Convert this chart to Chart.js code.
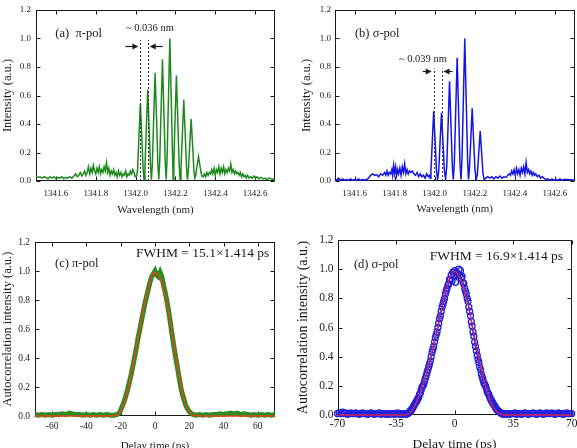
<!DOCTYPE html>
<html>
<head>
<meta charset="utf-8">
<script src="https://cdn.jsdelivr.net/npm/chart.js@4.4.1/dist/chart.umd.min.js"></script>
<style>
  body { margin: 0; background: #fff; width: 577px; height: 448px; overflow: hidden; position: relative; }
  canvas { position: absolute; }
</style>
</head>
<body>
<canvas id="ca" width="288" height="222" style="left:0;top:0"></canvas>
<canvas id="cb" width="289" height="222" style="left:288px;top:0"></canvas>
<canvas id="cc" width="288" height="240" style="left:0;top:222px"></canvas>
<canvas id="cd" width="289" height="240" style="left:288px;top:222px"></canvas>
<script>
// ---- (a) pi-pol spectrum ----
const wlA = [
  1341.500,1341.510,1341.520,1341.530,1341.540,1341.550,1341.560,1341.570,1341.580,1341.590,1341.600,1341.610,1341.620,1341.630,1341.640,1341.650,1341.660,1341.670,1341.680,1341.690,
  1341.700,1341.707,1341.715,1341.722,1341.730,1341.737,1341.744,1341.750,1341.757,1341.763,1341.770,1341.776,1341.782,1341.788,1341.794,1341.800,1341.806,
  1341.812,1341.818,1341.824,1341.830,1341.836,1341.842,1341.848,1341.854,1341.860,1341.866,1341.872,1341.878,1341.884,1341.890,1341.896,1341.902,
  1341.908,1341.914,1341.920,1341.926,1341.932,1341.938,1341.944,1341.950,1341.956,1341.962,1341.968,1341.974,1341.980,1341.986,1341.992,1341.998,
  1342.006, 1342.010,1342.016,1342.024,1342.032,1342.038,1342.0425, 1342.047,1342.053,1342.061,1342.069,1342.075,1342.0795,
  1342.084,1342.090,1342.098,1342.106,1342.112,1342.1165, 1342.121,1342.127,1342.135,1342.143,1342.149,1342.1535,
  1342.158,1342.164,1342.172,1342.180,1342.186,1342.1885, 1342.192,1342.197,1342.205,1342.213,1342.219,1342.2235,
  1342.228,1342.234,1342.242,1342.250,1342.256,1342.2605, 1342.265,1342.271,1342.279,1342.287,1342.293,1342.2975,
  1342.302,1342.308,1342.316,1342.324,1342.330,1342.335,
  1342.340,1342.346,1342.352,1342.358,1342.364,1342.370,1342.376,1342.382,1342.388,1342.394,1342.400,1342.406,1342.412,1342.418,1342.424,1342.430,
  1342.436,1342.442,1342.448,1342.454,1342.460,1342.466,1342.472,1342.478,1342.484,1342.490,1342.496,1342.502,1342.508,1342.514,1342.520,1342.526,
  1342.532,1342.538,1342.544,1342.550,1342.556,1342.562,1342.570,1342.578,1342.586,1342.594,1342.602,1342.610,1342.620,1342.630,1342.640,1342.650,1342.660,1342.670,1342.680,1342.700
];
const intA = [
  0.03,0.025,0.03,0.02,0.03,0.025,0.015,0.03,0.02,0.03,0.015,0.025,0.02,0.03,0.015,0.025,0.02,0.03,0.02,0.035,
  0.05,0.03,0.04,0.06,0.035,0.05,0.07,0.04,0.06,0.10,0.05,0.09,0.06,0.11,0.07,0.05,0.09,
  0.06,0.10,0.05,0.08,0.06,0.10,0.07,0.13,0.06,0.09,0.04,0.07,0.05,0.08,0.04,0.06,
  0.03,0.07,0.04,0.06,0.03,0.05,0.04,0.07,0.03,0.05,0.04,0.07,0.05,0.08,0.06,0.03,
  0.04, 0.08,0.28,0.545,0.28,0.08,0.01, 0.10,0.33,0.64,0.33,0.10,0.01,
  0.11,0.40,0.76,0.40,0.11,0.01, 0.13,0.44,0.855,0.44,0.13,0.01,
  0.15,0.52,1.00,0.52,0.15,0.01, 0.11,0.38,0.74,0.38,0.11,0.01,
  0.09,0.30,0.57,0.30,0.09,0.01, 0.07,0.23,0.435,0.23,0.07,0.02,
  0.04,0.10,0.17,0.10,0.05,0.03,
  0.03,0.05,0.03,0.06,0.04,0.06,0.05,0.08,0.05,0.09,0.04,0.08,0.06,0.10,0.05,0.09,
  0.06,0.10,0.05,0.08,0.06,0.09,0.07,0.12,0.06,0.08,0.05,0.07,0.05,0.06,0.04,0.06,
  0.03,0.05,0.03,0.04,0.02,0.04,0.02,0.03,0.02,0.035,0.02,0.03,0.015,0.025,0.015,0.02,0.01,0.02,0.015,0.01
];
const fringeA = [1342.024, 1342.061];

// ---- (b) sigma-pol spectrum ----
const wlB = [
  1341.500,1341.510,1341.520,1341.530,1341.540,1341.550,1341.560,1341.570,1341.580,1341.590,1341.600,1341.610,1341.620,1341.630,1341.640,1341.650,1341.660,1341.670,
  1341.680,1341.690,1341.700,1341.710,1341.720,1341.730,1341.740,1341.750,1341.756,1341.762,1341.768,1341.774,1341.780,1341.786,1341.790,
  1341.795,1341.800,1341.805,1341.810,1341.815,1341.820,1341.826,1341.832,1341.838,1341.844,1341.850,1341.856,1341.862,1341.868,1341.874,1341.880,
  1341.888,1341.896,1341.904,1341.912,1341.920,1341.928,1341.936,1341.944,1341.952,1341.960,1341.968,1341.974,1341.978,
  1341.981,1341.987,1341.995,1342.003,1342.009,1342.0145, 1342.020,1342.026,1342.034,1342.042,1342.048,1342.054,
  1342.060,1342.066,1342.074,1342.082,1342.088,1342.093, 1342.098,1342.104,1342.112,1342.120,1342.126,1342.131,
  1342.136,1342.142,1342.150,1342.158,1342.164,1342.1685, 1342.173,1342.179,1342.187,1342.195,1342.201,1342.207,
  1342.213,1342.219,1342.227,1342.235,1342.241,1342.247,
  1342.255,1342.265,1342.275,1342.285,1342.295,1342.305,1342.315,1342.325,1342.335,1342.345,1342.355,1342.365,1342.372,1342.378,1342.384,
  1342.390,1342.396,1342.402,1342.408,1342.414,1342.420,1342.426,1342.432,1342.438,1342.444,1342.450,1342.456,1342.462,1342.468,1342.474,1342.480,
  1342.486,1342.492,1342.498,1342.504,1342.512,1342.520,1342.528,1342.536,1342.545,1342.555,1342.565,1342.575,1342.585,1342.595,1342.605,1342.615,1342.625,1342.635,1342.645,1342.665,1342.700
];
const intB = [
  0.015,0.005,0.02,0.005,0.015,0.005,0.01,0.005,0.015,0.005,0.01,0.005,0.015,0.005,0.01,0.005,0.01,0.02,
  0.04,0.05,0.04,0.045,0.03,0.05,0.04,0.06,0.04,0.07,0.04,0.06,0.05,0.08,0.04,
  0.11,0.05,0.10,0.04,0.08,0.05,0.09,0.04,0.10,0.06,0.12,0.05,0.08,0.05,0.07,0.06,
  0.07,0.05,0.04,0.06,0.03,0.05,0.03,0.04,0.02,0.05,0.03,0.04,0.02,
  0.06,0.25,0.49,0.25,0.07,0.01, 0.07,0.25,0.478,0.25,0.08,0.01,
  0.10,0.36,0.70,0.36,0.10,0.01, 0.13,0.45,0.865,0.45,0.13,0.01,
  0.15,0.52,1.00,0.52,0.15,0.01, 0.08,0.26,0.51,0.26,0.08,0.01,
  0.05,0.18,0.35,0.18,0.05,0.01,
  0.02,0.03,0.02,0.03,0.015,0.03,0.02,0.035,0.02,0.03,0.025,0.04,0.05,0.04,0.07,
  0.05,0.08,0.04,0.09,0.05,0.08,0.04,0.09,0.06,0.10,0.05,0.13,0.06,0.08,0.05,0.07,
  0.04,0.06,0.04,0.05,0.03,0.04,0.02,0.03,0.02,0.01,0.015,0.005,0.015,0.005,0.01,0.005,0.015,0.005,0.01,0.01,0.005
];
const fringeB = [1341.995, 1342.034];

// ---- (c) pi-pol autocorrelation ----
const delayC = [
  -70,-68,-66,-64,-62,-60,-58,-56,-54,-52,-50,-48,-46,-44,-42,-40,-38,-36,-34,-32,-30,-28,-26,-24,-22,
  -21,-20,-19,-18,-17,-16,-15,-14,-13,-12,-11,-10,-9,-8,-7,-6,-5,-4,-3,-2,-1,0,
  1,2,3,4,5,6,7,8,9,10,11,12,13,14,15,16,17,18,19,20,21,22,
  24,26,28,30,32,34,36,38,40,42,44,46,48,50,52,54,56,58,60,62,64,66,68,70
];
const acC = [
  0.01,0.005,0.01,0.005,0.01,0.005,0.01,0.01,0.015,0.01,0.02,0.015,0.01,0.01,0.005,0.01,0.005,0.01,0.005,0.01,0.005,0.01,0.005,0.005,0.01,
  0.02,0.04,0.07,0.10,0.14,0.18,0.23,0.28,0.34,0.40,0.46,0.53,0.59,0.65,0.71,0.77,0.82,0.87,0.92,0.96,0.98,1.00,
  0.97,0.96,0.99,0.96,0.90,0.85,0.79,0.72,0.64,0.56,0.48,0.41,0.34,0.27,0.20,0.15,0.11,0.07,0.05,0.03,0.02,0.01,
  0.005,0.01,0.005,0.01,0.005,0.01,0.01,0.015,0.01,0.015,0.02,0.015,0.02,0.01,0.015,0.01,0.005,0.01,0.005,0.01,0.005,0.01,0.005,0.01
];
const fitDelayC = [-70,-40,-30,-26,-24,-22,-20,-18,-16,-14,-12,-10,-8,-6,-4,-2,0,2,4,6,8,10,12,14,16,18,20,22,24,26,30,40,70];
const fitC = [0,0,0,0,0.003,0.012,0.035,0.09,0.17,0.28,0.40,0.53,0.66,0.78,0.88,0.96,0.99,0.97,0.92,0.83,0.71,0.57,0.42,0.28,0.16,0.08,0.03,0.01,0.003,0,0,0,0];

// ---- (d) sigma-pol autocorrelation ----
const delayD = [
  -70,-69,-68,-67,-66,-65,-64,-63,-62,-61,
  -60,-59,-58,-57,-56,-55,-54,-53,-52,-51,
  -50,-49,-48,-47,-46,-45,-44,-43,-42,-41,
  -40,-39,-38,-37,-36,-35,-34,-33,-32,-31,
  -30,-29,-28,-27,-26,-25,-24,-23,-22,-21,
  -20,-19,-18,-17,-16,-15,-14,-13,-12,-11,
  -10,-9,-8,-7,-6,-5,-4,-3,-2,-1,
  0,1,2,3,4,5,6,7,8,9,
  10,11,12,13,14,15,16,17,18,19,
  20,21,22,23,24,25,26,27,28,29,
  30,31,32,33,34,35,36,37,38,39,
  40,41,42,43,44,45,46,47,48,49,
  50,51,52,53,54,55,56,57,58,59,
  60,61,62,63,64,65,66,67,68,69,
  70
];
const acD = [
  0.01,0.015,0.01,0.02,0.01,0.015,0.005,0.01,0.015,0.01,
  0.01,0.015,0.01,0.005,0.01,0.015,0.01,0.01,0.005,0.01,
  0.015,0.01,0.005,0.01,0.01,0.015,0.005,0.01,0.01,0.005,
  0.01,0.005,0.01,0.01,0.005,0.01,0.015,0.005,0.01,0.005,
  0.01,0.005,0.01,0.02,0.03,0.05,0.07,0.09,0.11,0.14,
  0.17,0.20,0.23,0.27,0.31,0.35,0.40,0.45,0.50,0.55,
  0.60,0.66,0.71,0.76,0.80,0.85,0.89,0.93,0.96,0.98,
  0.99,0.98,0.97,0.96,0.94,0.91,0.87,0.83,0.78,0.71,
  0.64,0.57,0.50,0.44,0.38,0.33,0.28,0.24,0.21,0.18,
  0.15,0.12,0.10,0.08,0.06,0.04,0.03,0.02,0.01,0.005,
  0.01,0.005,0.01,0.005,0.01,0.01,0.015,0.005,0.01,0.01,
  0.005,0.01,0.015,0.01,0.005,0.01,0.01,0.015,0.01,0.005,
  0.01,0.015,0.01,0.005,0.01,0.015,0.01,0.01,0.015,0.01,
  0.005,0.01,0.015,0.01,0.01,0.005,0.01,0.015,0.01,0.01,
  0.01
];
const delayD2 = [
  -28.5,-27.5,-26.5,-25.5,-24.5,-23.5,-22.5,-21.5,-20.5,-19.5,-18.5,-17.5,-16.5,-15.5,-14.5,
  -13.5,-12.5,-11.5,-10.5,-9.5,-8.5,-7.5,-6.5,-5.5,-4.5,-3.5,-2.5,-1.5,-0.5,
  0.5,1.5,2.5,3.5,4.5,5.5,6.5,7.5,8.5,9.5,10.5,11.5,12.5,13.5,14.5,
  15.5,16.5,17.5,18.5,19.5,20.5,21.5,22.5,23.5,24.5,25.5,26.5,27.5,28.5
];
const acD2 = [
  0.01,0.015,0.03,0.04,0.06,0.08,0.10,0.12,0.15,0.19,0.21,0.25,0.29,0.33,0.37,
  0.43,0.47,0.53,0.57,0.63,0.68,0.74,0.78,0.83,0.87,0.90,0.93,0.92,0.95,
  0.91,0.96,1.00,0.99,0.95,0.90,0.85,0.80,0.74,0.68,0.61,0.54,0.47,0.41,0.36,
  0.31,0.26,0.22,0.20,0.16,0.14,0.11,0.09,0.07,0.05,0.035,0.025,0.015,0.01
];
const fitDelayD = [-70,-40,-30,-28,-26,-24,-22,-20,-18,-16,-14,-12,-10,-8,-6,-4,-2,0,2,4,6,8,10,12,14,16,18,20,22,24,26,28,30,40,70];
const fitD = [0,0,0,0.005,0.025,0.06,0.11,0.17,0.24,0.32,0.41,0.51,0.61,0.72,0.82,0.90,0.96,0.985,0.97,0.92,0.85,0.76,0.65,0.53,0.42,0.31,0.22,0.14,0.08,0.04,0.015,0.005,0,0,0];

// ---- tick values ----
const ticksWl = [1341.6, 1341.8, 1342.0, 1342.2, 1342.4, 1342.6];
const ticksInt = [0, 0.2, 0.4, 0.6, 0.8, 1.0, 1.2];
const ticksDelayC = [-60, -40, -20, 0, 20, 40, 60];
const ticksDelayD = [-70, -35, 0, 35, 70];

const SERIF = "'Liberation Serif', 'Times New Roman', serif";
const INK = '#1a1a1a';

const pts = (xs, ys) => xs.map((x, i) => ({ x: x, y: ys[i] }));

function axis(o) {
  return {
    type: 'linear', min: o.min, max: o.max,
    afterBuildTicks: s => { s.ticks = o.ticks.map(v => ({ value: v })); },
    afterFit: s => {
      if (s.isHorizontal()) { s.height = o.size; s.paddingLeft = 0; s.paddingRight = 0; }
      else { s.width = o.size; s.paddingTop = 0; s.paddingBottom = 0; }
    },
    grid: { display: false, drawTicks: false },
    border: { display: false },
    ticks: {
      autoSkip: false, maxRotation: 0, padding: o.pad, color: INK,
      font: { family: SERIF, size: o.tickSize },
      callback: o.fmt
    },
    title: {
      display: true, text: o.title, color: INK,
      font: { family: SERIF, size: o.titleSize }, padding: o.titlePad
    }
  };
}

// box round the plot with inward ticks on all four sides
const frame = {
  id: 'frame',
  beforeDatasetsDraw(chart) {
    const { ctx, chartArea: a, scales: { x, y } } = chart;
    const L = Math.round(a.left) + 0.5, R = Math.round(a.right) - 0.5;
    const T = Math.round(a.top) + 0.5, B = Math.round(a.bottom) - 0.5;
    ctx.save();
    ctx.strokeStyle = INK;
    ctx.lineWidth = 1;
    ctx.strokeRect(L, T, R - L, B - T);
    ctx.beginPath();
    x.ticks.forEach(t => {
      const p = Math.round(x.getPixelForValue(t.value)) + 0.5;
      ctx.moveTo(p, B); ctx.lineTo(p, B - 4);
      ctx.moveTo(p, T); ctx.lineTo(p, T + 4);
    });
    y.ticks.forEach(t => {
      const p = Math.round(y.getPixelForValue(t.value)) + 0.5;
      ctx.moveTo(L, p); ctx.lineTo(L + 4, p);
      ctx.moveTo(R, p); ctx.lineTo(R - 4, p);
    });
    ctx.stroke();
    ctx.restore();
  }
};

function text(ctx, str, x, y, size, align) {
  ctx.font = size + 'px ' + SERIF;
  ctx.fillStyle = INK;
  ctx.textAlign = align || 'left';
  ctx.textBaseline = 'middle';
  ctx.fillText(str, x, y);
}
function arrow(ctx, x0, x1, y) {
  const d = Math.sign(x1 - x0);
  ctx.strokeStyle = INK; ctx.fillStyle = INK; ctx.lineWidth = 1.2; ctx.setLineDash([]);
  ctx.beginPath(); ctx.moveTo(x0, y); ctx.lineTo(x1 - d * 4, y); ctx.stroke();
  ctx.beginPath(); ctx.moveTo(x1, y); ctx.lineTo(x1 - d * 6, y - 3); ctx.lineTo(x1 - d * 6, y + 3); ctx.closePath(); ctx.fill();
}
function dashed(ctx, x, y0, y1) {
  ctx.strokeStyle = '#333'; ctx.lineWidth = 1; ctx.setLineDash([2, 2]);
  ctx.beginPath(); ctx.moveTo(Math.round(x) + 0.5, y0); ctx.lineTo(Math.round(x) + 0.5, y1); ctx.stroke();
  ctx.setLineDash([]);
}

function spacingNotes(id, panel, fringe, lineTop, arrowY, textX, textY, gap, str) {
  return {
    id: id,
    afterDatasetsDraw(chart) {
      const { ctx, scales: { x, y } } = chart;
      ctx.save();
      text(ctx, panel, x.getPixelForValue(textX[0]), y.getPixelForValue(1.035), 12.5);
      const l1 = x.getPixelForValue(fringe[0]), l2 = x.getPixelForValue(fringe[1]);
      dashed(ctx, l1, y.getPixelForValue(0), y.getPixelForValue(lineTop));
      dashed(ctx, l2, y.getPixelForValue(0), y.getPixelForValue(lineTop));
      const ay = Math.round(y.getPixelForValue(arrowY)) + 0.5;
      arrow(ctx, l1 - gap, l1 - 2, ay);
      arrow(ctx, l2 + gap, l2 + 2, ay);
      text(ctx, str, x.getPixelForValue(textX[1]), y.getPixelForValue(textY), 10.5, 'center');
      ctx.restore();
    }
  };
}

function pulseNotes(id, panel, panelAt, fwhm, fwhmAt) {
  return {
    id: id,
    afterDatasetsDraw(chart) {
      const { ctx, scales: { x, y } } = chart;
      ctx.save();
      text(ctx, panel, x.getPixelForValue(panelAt[0]), y.getPixelForValue(panelAt[1]), 12.5);
      text(ctx, fwhm, x.getPixelForValue(fwhmAt[0]), y.getPixelForValue(fwhmAt[1]), 13.5);
      ctx.restore();
    }
  };
}

const fmt1 = v => v.toFixed(1);
const fmt0 = v => String(v);
const base = {
  responsive: false, animation: false, events: [],
  plugins: { legend: { display: false }, tooltip: { enabled: false } }
};

// (a)
new Chart(document.getElementById('ca'), {
  type: 'scatter',
  data: { datasets: [{ data: pts(wlA, intA), showLine: true, borderColor: '#1e8a1e', borderWidth: 1.5, pointRadius: 0, tension: 0 }] },
  options: Object.assign({}, base, {
    layout: { padding: { left: 0, top: 10, right: 13, bottom: 0 } },
    scales: {
      x: axis({ min: 1341.5, max: 1342.7, ticks: ticksWl, size: 41, pad: 7, tickSize: 9, fmt: fmt1, title: 'Wavelength (nm)', titleSize: 11, titlePad: { top: 0, bottom: 5.5 } }),
      y: axis({ min: 0, max: 1.2, ticks: ticksInt, size: 36, pad: 5, tickSize: 9, fmt: fmt1, title: 'Intensity (a.u.)', titleSize: 12.5, titlePad: { top: 0.5, bottom: 0 } })
    }
  }),
  plugins: [frame, spacingNotes('notesA', '(a)  \u03c0-pol', fringeA, 0.99, 0.95, [1341.597, 1342.072], 1.07, 15, '~ 0.036 nm')]
});

// (b)
new Chart(document.getElementById('cb'), {
  type: 'scatter',
  data: { datasets: [{ data: pts(wlB, intB), showLine: true, borderColor: '#1414e6', borderWidth: 1.5, pointRadius: 0, tension: 0 }] },
  options: Object.assign({}, base, {
    layout: { padding: { left: 10, top: 10, right: 2, bottom: 0 } },
    scales: {
      x: axis({ min: 1341.5, max: 1342.7, ticks: ticksWl, size: 41, pad: 7, tickSize: 9, fmt: fmt1, title: 'Wavelength (nm)', titleSize: 11, titlePad: { top: 0, bottom: 6 } }),
      y: axis({ min: 0, max: 1.2, ticks: ticksInt, size: 36.5, pad: 3.5, tickSize: 9, fmt: fmt1, title: 'Intensity (a.u.)', titleSize: 12.5, titlePad: { top: 0.8, bottom: 0 } })
    }
  }),
  plugins: [frame, spacingNotes('notesB', '(b) \u03c3-pol', fringeB, 0.79, 0.77, [1341.602, 1341.941], 0.854, 11, '~ 0.039 nm')]
});

// (c)
new Chart(document.getElementById('cc'), {
  type: 'scatter',
  data: { datasets: [
    { data: pts(fitDelayC, fitC), showLine: true, borderColor: '#e2461c', borderWidth: 1.5, pointRadius: 0, cubicInterpolationMode: 'monotone', clip: 6 },
    { data: pts(delayC, acC), showLine: true, borderColor: '#2a8c22', borderWidth: 5, pointRadius: 0, tension: 0, clip: 6 }
  ] },
  options: Object.assign({}, base, {
    layout: { padding: { left: 0, top: 20, right: 13, bottom: 0 } },
    scales: {
      x: axis({ min: -70, max: 70, ticks: ticksDelayC, size: 46, pad: 5, tickSize: 9.5, fmt: fmt0, title: 'Delay time (ps)', titleSize: 11, titlePad: { top: 0, bottom: 9 } }),
      y: axis({ min: 0, max: 1.2, ticks: ticksInt, size: 35, pad: 5, tickSize: 9.5, fmt: fmt1, title: 'Autocorrelation intensity (a.u.)', titleSize: 12.5, titlePad: { top: 0, bottom: 0 } })
    }
  }),
  plugins: [frame, pulseNotes('notesC', '(c) \u03c0-pol', [-58.3, 1.048], 'FWHM = 15.1\u00d71.414 ps', [-11.1, 1.122])]
});

// (d)
new Chart(document.getElementById('cd'), {
  type: 'scatter',
  data: { datasets: [
    { data: pts(fitDelayD, fitD), showLine: true, borderColor: '#d02658', borderWidth: 1.4, pointRadius: 0, cubicInterpolationMode: 'monotone', clip: 6 },
    { data: pts(delayD, acD), showLine: true, borderColor: '#2020dd', borderWidth: 1.2, pointRadius: 3, pointBorderWidth: 1.3, pointBorderColor: '#2020dd', pointBackgroundColor: 'rgba(0,0,0,0)', tension: 0, clip: 6 },
    { data: pts(delayD2, acD2), showLine: false, pointRadius: 3, pointBorderWidth: 1.3, pointBorderColor: '#2020dd', pointBackgroundColor: 'rgba(0,0,0,0)', clip: 6 }
  ] },
  options: Object.assign({}, base, {
    layout: { padding: { left: 7, top: 18, right: 4.5, bottom: 0 } },
    scales: {
      x: axis({ min: -70, max: 70, ticks: ticksDelayD, size: 47, pad: 2.5, tickSize: 11.5, fmt: fmt0, title: 'Delay time (ps)', titleSize: 13.5, titlePad: { top: 0, bottom: 9 } }),
      y: axis({ min: 0, max: 1.2, ticks: ticksInt, size: 42.5, pad: 4, tickSize: 11.5, fmt: fmt1, title: 'Autocorrelation intensity (a.u.)', titleSize: 14, titlePad: { top: 0, bottom: 0 } })
    }
  }),
  plugins: [frame, pulseNotes('notesD', '(d) \u03c3-pol', [-60.2, 1.029], 'FWHM = 16.9\u00d71.414 ps', [-14.9, 1.09])]
});
</script>
</body>
</html>
